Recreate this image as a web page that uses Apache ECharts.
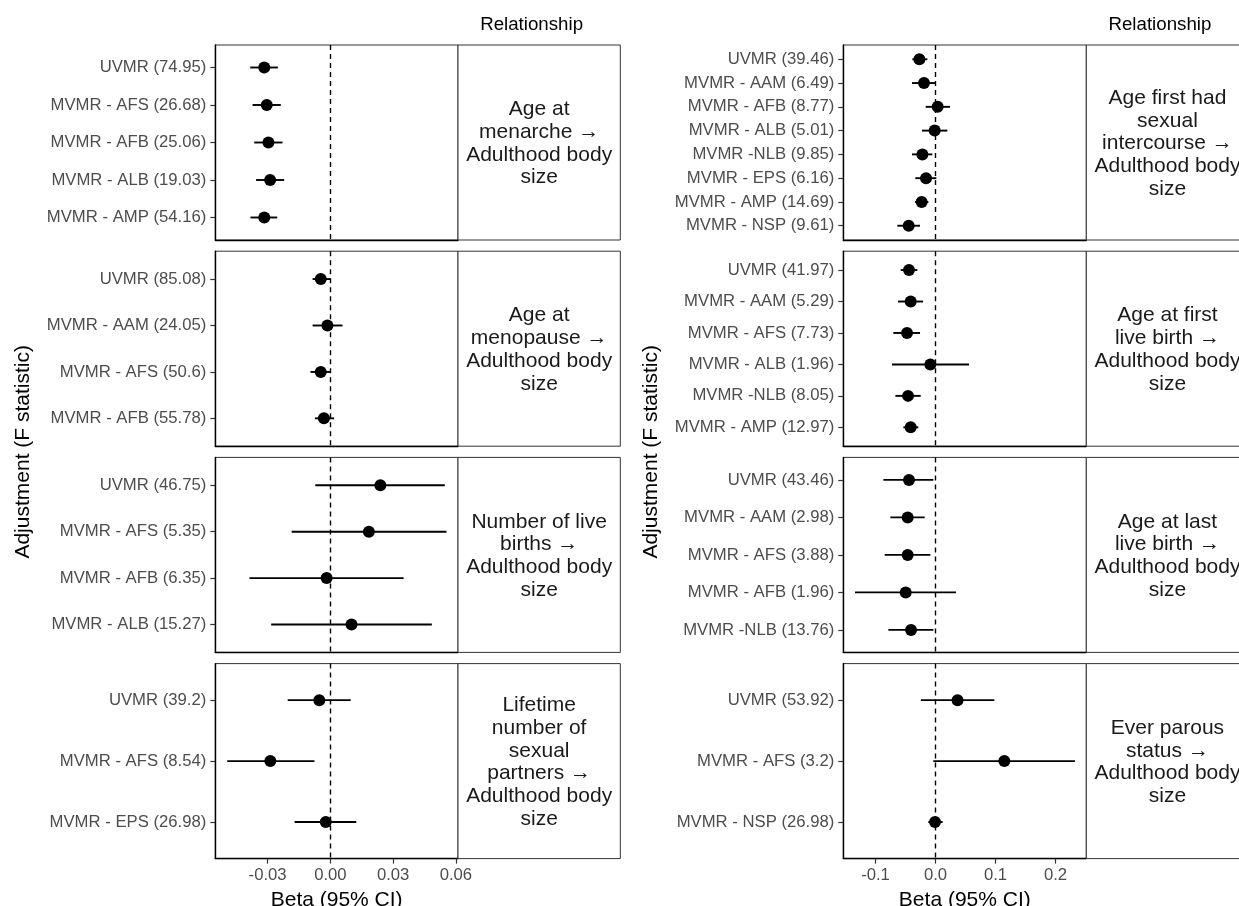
<!DOCTYPE html>
<html>
<head>
<meta charset="utf-8">
<script src="https://cdn.jsdelivr.net/npm/echarts@6/dist/echarts.min.js"></script>
<style>html,body{margin:0;padding:0;background:#fff}#c{width:1239px;height:906px}</style>
</head>
<body>
<div id="c"></div>
<script>
// ---------- data ----------
const menarcheLabels = ['UVMR (74.95)','MVMR - AFS (26.68)','MVMR - AFB (25.06)','MVMR - ALB (19.03)','MVMR - AMP (54.16)'];
const menarcheBeta = [-0.0316,-0.0304,-0.0296,-0.0288,-0.0316];
const menarcheLo   = [-0.0383,-0.0372,-0.0364,-0.0355,-0.0382];
const menarcheHi   = [-0.0251,-0.0237,-0.0229,-0.0221,-0.0254];

const menopauseLabels = ['UVMR (85.08)','MVMR - AAM (24.05)','MVMR - AFS (50.6)','MVMR - AFB (55.78)'];
const menopauseBeta = [-0.0046,-0.0014,-0.0046,-0.0031];
const menopauseLo   = [-0.0085,-0.0085,-0.0095,-0.0074];
const menopauseHi   = [0.0000,0.0058,0.0000,0.0018];

const liveBirthsLabels = ['UVMR (46.75)','MVMR - AFS (5.35)','MVMR - AFB (6.35)','MVMR - ALB (15.27)'];
const liveBirthsBeta = [0.0239,0.0184,-0.0018,0.0101];
const liveBirthsLo   = [-0.0072,-0.0185,-0.0387,-0.0283];
const liveBirthsHi   = [0.0547,0.0555,0.0350,0.0485];

const partnersLabels = ['UVMR (39.2)','MVMR - AFS (8.54)','MVMR - EPS (26.98)'];
const partnersBeta = [-0.0053,-0.0287,-0.0022];
const partnersLo   = [-0.0204,-0.0493,-0.0171];
const partnersHi   = [0.0097,-0.0076,0.0124];

const firstSexLabels = ['UVMR (39.46)','MVMR - AAM (6.49)','MVMR - AFB (8.77)','MVMR - ALB (5.01)','MVMR -NLB (9.85)','MVMR - EPS (6.16)','MVMR - AMP (14.69)','MVMR - NSP (9.61)'];
const firstSexBeta = [-0.0269,-0.0192,0.0036,-0.0014,-0.0219,-0.0158,-0.0231,-0.0447];
const firstSexLo   = [-0.0386,-0.0392,-0.0164,-0.0225,-0.0392,-0.0336,-0.0342,-0.0636];
const firstSexHi   = [-0.0136,0.0008,0.0242,0.0197,-0.0053,0.0014,-0.0119,-0.0258];

const firstBirthLabels = ['UVMR (41.97)','MVMR - AAM (5.29)','MVMR - AFS (7.73)','MVMR - ALB (1.96)','MVMR -NLB (8.05)','MVMR - AMP (12.97)'];
const firstBirthBeta = [-0.0442,-0.0414,-0.0475,-0.0086,-0.0458,-0.0414];
const firstBirthLo   = [-0.0581,-0.0625,-0.0703,-0.0725,-0.0669,-0.0536];
const firstBirthHi   = [-0.0303,-0.0208,-0.0258,0.0558,-0.0247,-0.0286];

const lastBirthLabels = ['UVMR (43.46)','MVMR - AAM (2.98)','MVMR - AFS (3.88)','MVMR - AFB (1.96)','MVMR -NLB (13.76)'];
const lastBirthBeta = [-0.0442,-0.0464,-0.0464,-0.0497,-0.0408];
const lastBirthLo   = [-0.0869,-0.0753,-0.0847,-0.1342,-0.0786];
const lastBirthHi   = [-0.0036,-0.0181,-0.0086,0.0342,-0.0036];

const parousLabels = ['UVMR (53.92)','MVMR - AFS (3.2)','MVMR - NSP (26.98)'];
const parousBeta = [0.0367,0.1147,-0.0008];
const parousLo   = [-0.0245,-0.0037,-0.0120];
const parousHi   = [0.0980,0.2325,0.0120];

const leftRelationships = ['Age at\nmenarche \u2192\nAdulthood body\nsize','Age at\nmenopause \u2192\nAdulthood body\nsize','Number of live\nbirths \u2192\nAdulthood body\nsize','Lifetime\nnumber of\nsexual\npartners \u2192\nAdulthood body\nsize'];
const rightRelationships = ['Age first had\nsexual\nintercourse \u2192\nAdulthood body\nsize','Age at first\nlive birth \u2192\nAdulthood body\nsize','Age at last\nlive birth \u2192\nAdulthood body\nsize','Ever parous\nstatus \u2192\nAdulthood body\nsize'];

const leftTicks = [-0.03, 0, 0.03, 0.06];
const rightTicks = [-0.1, 0, 0.1, 0.2];
const leftRange = [-0.055, 0.061];
const rightRange = [-0.1537, 0.2513];

// ---------- layout ----------
const FONT = '"Liberation Sans", Arial, sans-serif';
const colX = [215.3, 843.3];
const colW = [242.7, 243];
const rowTop = [45, 251.2, 457.4, 663.6];
const panelH = 195;
const stripW = 162.3;

const panels = [
  {col:0,row:0,labels:menarcheLabels,beta:menarcheBeta,lo:menarcheLo,hi:menarcheHi,rel:leftRelationships[0]},
  {col:0,row:1,labels:menopauseLabels,beta:menopauseBeta,lo:menopauseLo,hi:menopauseHi,rel:leftRelationships[1]},
  {col:0,row:2,labels:liveBirthsLabels,beta:liveBirthsBeta,lo:liveBirthsLo,hi:liveBirthsHi,rel:leftRelationships[2]},
  {col:0,row:3,labels:partnersLabels,beta:partnersBeta,lo:partnersLo,hi:partnersHi,rel:leftRelationships[3]},
  {col:1,row:0,labels:firstSexLabels,beta:firstSexBeta,lo:firstSexLo,hi:firstSexHi,rel:rightRelationships[0]},
  {col:1,row:1,labels:firstBirthLabels,beta:firstBirthBeta,lo:firstBirthLo,hi:firstBirthHi,rel:rightRelationships[1]},
  {col:1,row:2,labels:lastBirthLabels,beta:lastBirthBeta,lo:lastBirthLo,hi:lastBirthHi,rel:rightRelationships[2]},
  {col:1,row:3,labels:parousLabels,beta:parousBeta,lo:parousLo,hi:parousHi,rel:rightRelationships[3]}
];

const grid = [], xAxis = [], yAxis = [], series = [], graphic = [];

panels.forEach((p, i) => {
  const n = p.labels.length;
  const idx = p.labels.map((_, k) => k);
  const bottom = p.row === 3;
  const ticks = p.col === 0 ? leftTicks : rightTicks;
  const range = p.col === 0 ? leftRange : rightRange;
  grid.push({left: colX[p.col], top: rowTop[p.row], width: colW[p.col], height: panelH,
    outerBoundsMode: 'none', containLabel: false,
    show: true, borderColor: '#333', borderWidth: 1, backgroundColor: '#fff'});
  xAxis.push({
    type: 'value', gridIndex: i, min: range[0], max: range[1],
    splitLine: {show: false},
    axisLine: {show: true, onZero: false, lineStyle: {color: '#000', width: 1.4}},
    axisTick: {show: bottom, customValues: ticks, length: 5, lineStyle: {color: '#333', width: 1.2}},
    axisLabel: {show: bottom, customValues: ticks, margin: 8, fontSize: 16.7, color: '#4d4d4d', fontFamily: FONT,
      formatter: v => p.col === 0 ? v.toFixed(2) : v.toFixed(1)},
    name: bottom ? 'Beta (95% CI)' : '', nameLocation: 'middle', nameGap: 31,
    nameTextStyle: {fontSize: 21, color: '#000', fontFamily: FONT}
  });
  yAxis.push({
    type: 'value', gridIndex: i, min: -0.6, max: n - 0.4, inverse: true,
    splitLine: {show: false},
    axisLine: {show: true, onZero: false, lineStyle: {color: '#000', width: 1.4}},
    axisTick: {show: true, customValues: idx, length: 5, lineStyle: {color: '#333', width: 1.2}},
    axisLabel: {show: true, customValues: idx, margin: 9, fontSize: 16.7, color: '#4d4d4d', fontFamily: FONT,
      formatter: v => p.labels[Math.round(v)]}
  });
  series.push({
    type: 'custom', xAxisIndex: i, yAxisIndex: i, z: 2, silent: true,
    data: idx.map(k => [p.lo[k], p.hi[k], k]),
    encode: {x: [0, 1], y: 2},
    renderItem: (params, api) => {
      const a = api.coord([api.value(0), api.value(2)]);
      const b = api.coord([api.value(1), api.value(2)]);
      return {type: 'line', shape: {x1: a[0], y1: a[1], x2: b[0], y2: b[1]}, style: {stroke: '#000', lineWidth: 1.9}};
    },
    markLine: {silent: true, symbol: ['none', 'none'], label: {show: false},
      lineStyle: {type: [5, 4], color: '#000', width: 1.4}, data: [{xAxis: 0}]}
  });
  series.push({
    type: 'scatter', xAxisIndex: i, yAxisIndex: i, z: 3, symbol: 'circle', symbolSize: 12,
    itemStyle: {color: '#000', opacity: 1}, silent: true,
    data: idx.map(k => [p.beta[k], k])
  });
  const sx = colX[p.col] + colW[p.col];
  graphic.push({type: 'rect', shape: {x: sx, y: rowTop[p.row], width: stripW, height: panelH},
    style: {fill: '#fff', stroke: '#333', lineWidth: 1}, z: 10, silent: true});
  graphic.push({type: 'text', x: sx + stripW / 2, y: rowTop[p.row] + panelH / 2 + 1, z: 11, silent: true,
    style: {text: p.rel, fill: '#1a1a1a', font: '21px ' + FONT, align: 'center', verticalAlign: 'middle', lineHeight: 22.7}});
});

[0, 1].forEach(c => {
  const sx = colX[c] + colW[c];
  graphic.push({type: 'text', x: sx + 73.6, y: 25, z: 11, silent: true,
    style: {text: 'Relationship', fill: '#000', font: '18.7px ' + FONT, align: 'center', verticalAlign: 'middle'}});
  graphic.push({type: 'text', x: colX[c] - 192.5, y: (rowTop[0] + rowTop[3] + panelH) / 2, rotation: Math.PI / 2, z: 11, silent: true,
    style: {text: 'Adjustment (F statistic)', fill: '#000', font: '21px ' + FONT, align: 'center', verticalAlign: 'middle'}});
});

const chart = echarts.init(document.getElementById('c'), null, {renderer: 'canvas'});
chart.setOption({animation: false, backgroundColor: '#fff', grid, xAxis, yAxis, series, graphic});
</script>
</body>
</html>
